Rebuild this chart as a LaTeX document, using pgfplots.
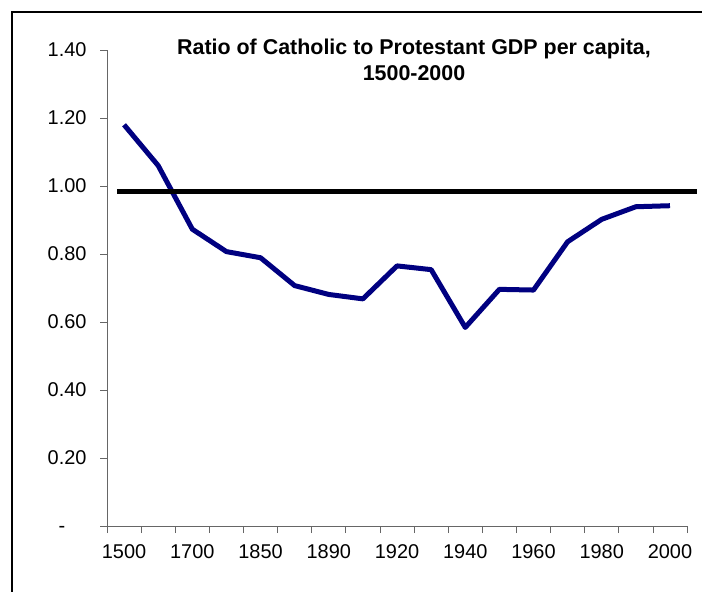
\documentclass[border=0pt]{standalone}
\usepackage{pgfplots}
\pgfplotsset{compat=1.18}
\usepackage{fontspec}
\setmainfont{Liberation Sans}
\definecolor{navyline}{RGB}{0,0,128}
\begin{document}
\begin{tikzpicture}
\useasboundingbox (0bp,0bp) rectangle (702bp,592bp);
\draw[line width=2bp] (12bp,-5bp) -- (12bp,580bp) -- (710bp,580bp);
\begin{axis}[
  at={(107bp,66bp)}, anchor=south west,
  x=34.12bp, y=340bp,
  xmin=-0.5, xmax=16.5, ymin=0, ymax=1.4,
  clip=false,
  axis x line*=bottom, axis y line*=left,
  axis line style={black!60, line width=0.8bp},
  tick align=outside,
  xtick={0,2,...,16},
  xticklabels={1500,1700,1850,1890,1920,1940,1960,1980,2000},
  minor xtick={-0.5,0.5,...,16.5},
  xtick style={draw=none},
  minor x tick style={draw=black!60, line width=0.8bp},
  minor tick length=7bp,
  major tick length=7bp,
  ytick={0,0.2,0.4,0.6,0.8,1.0,1.2,1.4},
  yticklabels={{\rlap{\hspace{11bp}-}\phantom{1.40}},0.20,0.40,0.60,0.80,1.00,1.20,1.40},
  y tick style={draw=black!60, line width=0.8bp},
  /pgf/number format/assume math mode=true,
  ticklabel style={font=\fontsize{20}{24}\selectfont},
  yticklabel style={xshift=-10bp},
  xticklabel style={yshift=-8bp},
]
\addplot[navyline, line width=5bp, line join=round] coordinates {
(0,1.18) (1,1.06) (2,0.873) (3,0.807) (4,0.789) (5,0.707) (6,0.681)
(7,0.668) (8,0.765) (9,0.754) (10,0.584) (11,0.696) (12,0.694)
(13,0.836) (14,0.902) (15,0.939) (16,0.942)};
\addplot[black, line width=5bp] coordinates {(-0.2,0.985) (16.79,0.985)};
\end{axis}
\node[font=\bfseries\fontsize{21.5}{26}\selectfont, align=center] at (414bp,532bp) {Ratio of Catholic to Protestant GDP per capita,\\1500-2000};
\end{tikzpicture}
\end{document}
